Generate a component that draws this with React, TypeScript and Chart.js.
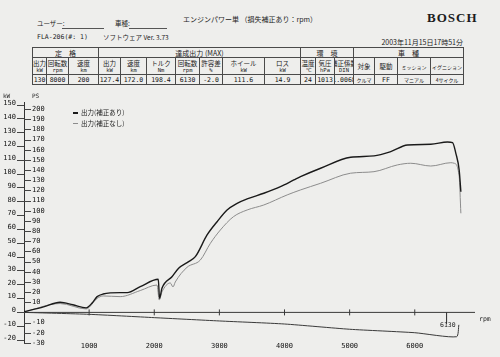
import React, { useEffect, useRef } from "react";
import { Chart, registerables } from "chart.js";
Chart.register(...registerables);

// ---- data ----
const rpmCorrected = [0, 300, 554, 750, 954, 1050, 1123, 1215, 1477, 1585, 1785, 2062, 2081, 2118, 2272, 2374, 2528, 2631, 2811, 2965, 3118, 3272, 3426, 3682, 3938, 4143, 4246, 4554, 5015, 5374, 5631, 5888, 6246, 6503, 6580, 6631, 6682, 6708];
const kwCorrected = [0.5, 4.0, 7.3, 5.5, 3.3, 7.0, 11.4, 13.3, 14.3, 14.3, 18.6, 24.0, 10.2, 17.4, 25.8, 31.9, 36.7, 40.3, 56.0, 65.6, 74.1, 78.9, 82.1, 86.2, 91.0, 95.8, 98.2, 104.3, 112.2, 113.2, 116.3, 121.1, 121.6, 123.3, 122.8, 115.1, 103.0, 87.3];
const rpmUncorrected = [0, 554, 954, 1123, 1215, 1477, 1785, 2042, 2077, 2118, 2246, 2288, 2323, 2503, 2708, 2862, 3015, 3215, 3426, 3682, 4041, 4246, 4554, 5015, 5374, 5734, 5938, 6246, 6554, 6605, 6682, 6708];
const kwUncorrected = [0.3, 6.4, 2.5, 10.1, 11.9, 11.4, 15.8, 19.8, 9.0, 14.8, 21.3, 18.4, 22.0, 32.6, 37.9, 50.0, 59.6, 69.2, 74.1, 77.7, 85.0, 88.6, 93.4, 100.7, 101.8, 106.7, 107.9, 105.9, 108.3, 107.9, 98.2, 71.7];
const rpmLoss = [0, 1000, 2000, 3000, 4000, 5000, 6000, 6642, 6677];
const kwLoss = [0, -1.4, -3.8, -6.2, -8.4, -12.2, -14.7, -17.6, -9.0];
const markerRpm = 6488;
const markerLabel = "6130";
const xTicks = [1000, 2000, 3000, 4000, 5000, 6000];
const kwTicks = [150, 140, 130, 120, 110, 100, 90, 80, 70, 60, 50, 40, 30, 20, 10, 0, -10, -20];
const psTicks = [200, 190, 180, 170, 160, 150, 140, 130, 120, 110, 100, 90, 80, 70, 60, 50, 40, 30, 20, 10, -10, -20, -30];
const seriesLabels = ["出力(補正あり)", "出力(補正なし)"];

const ratedHeaders = [["出力", "kW"], ["回転数", "rpm"], ["速度", "km"]];
const ratedValues = ["130", "8000", "200"];
const maxHeaders = [["出力", "kW"], ["速度", "km"], ["トルク", "Nm"], ["回転数", "rpm"], ["許容差", "%"], ["ホイール", "kW"], ["ロス", "kW"]];
const maxValues = ["127.4", "172.0", "198.4", "6130", "-2.0", "111.6", "14.9"];
const envHeaders = [["温度", "℃"], ["気圧", "hPa"], ["補正係数", "DIN"]];
const envValues = ["24", "1013", "1.0068"];
const vehHeaders = [["対象", ""], ["駆動", ""], ["ミッション", ""], ["イグニション", ""]];
const vehValues = ["クルマ", "FF", "マニアル", "4サイクル"];
const sectionTitles = ["定　格", "達成出力 (MAX)", "環　境", "車　種"];

const PS_KW = 0.7355;
const kwMin = -22;
const kwMax = 152;
const xMax = 6925;

const MONO = '"DejaVu Sans Mono", "Liberation Mono", monospace';
const JP = '"Noto Sans CJK JP", sans-serif';

const zip = (xs: number[], ys: number[]) => xs.map((x, i) => ({ x, y: ys[i] }));

function Txt(props: { x: number; y: number; s: number; children: any; ff?: string; w?: any; ls?: number; right?: boolean; color?: string }) {
  const { x, y, s, children, ff, w, ls, right, color } = props;
  const st: any = {
    position: "absolute",
    top: y - s * 0.6,
    fontSize: s,
    lineHeight: `${s * 1.2}px`,
    whiteSpace: "nowrap",
    fontFamily: ff || JP,
    fontWeight: w || "normal",
    letterSpacing: ls || 0,
    color: color || "#1c1c1c",
  };
  if (right) st.right = 500 - x;
  else st.left = x;
  return <div style={st}>{children}</div>;
}

function Table() {
  const colW = [14, 22, 30, 22, 26, 29, 24, 23, 42, 36, 15, 19, 19, 21, 23, 33, 33];
  const x0 = 32;
  const rows = [47, 57, 74, 84];
  const headers = [...ratedHeaders, ...maxHeaders, ...envHeaders, ...vehHeaders];
  const values = [...ratedValues, ...maxValues, ...envValues, ...vehValues];
  const sectionCols = [3, 7, 3, 4];
  const cells: any[] = [];
  const cell = (key: string, l: number, t: number, r: number, b: number, content: any) =>
    cells.push(
      <div key={key} style={{ position: "absolute", left: l, top: t, width: r - l + 1, height: b - t + 1, border: "1px solid #4a4a4a", boxSizing: "border-box", display: "flex", flexDirection: "column", alignItems: "center", justifyContent: "center", overflow: "hidden" }}>
        {content}
      </div>
    );
  const xs: number[] = [x0];
  colW.forEach((w) => xs.push(xs[xs.length - 1] + w));
  let ci = 0;
  sectionCols.forEach((n, si) => {
    cell("s" + si, xs[ci], rows[0], xs[ci + n], rows[1],
      <span style={{ fontSize: 7, lineHeight: "8px", fontFamily: JP, color: "#1c1c1c" }}>{sectionTitles[si]}</span>);
    ci += n;
  });
  const nonAscii = (s: string) => /[^\x00-\x7f]/.test(s);
  headers.forEach((h, i) => {
    cell("h" + i, xs[i], rows[1], xs[i + 1], rows[2],
      <>
        <span style={{ fontSize: h[0].length > 4 ? 5 : 6.5, lineHeight: "7px", fontFamily: JP, color: "#1c1c1c", whiteSpace: "nowrap" }}>{h[0]}</span>
        {h[1] ? <span style={{ fontSize: 5.5, lineHeight: "6px", fontFamily: MONO, color: "#1c1c1c" }}>{h[1]}</span> : null}
      </>);
    cell("v" + i, xs[i], rows[2], xs[i + 1], rows[3],
      <span style={{ fontSize: nonAscii(values[i]) ? 5 : 6.5, lineHeight: "8px", fontFamily: nonAscii(values[i]) ? JP : MONO, color: "#141414", whiteSpace: "nowrap" }}>{values[i]}</span>);
  });
  return <>{cells}</>;
}

export default function App() {
  const ref = useRef<HTMLCanvasElement>(null);
  useEffect(() => {
    document.body.style.margin = "0";
    const canvas = ref.current;
    if (!canvas) return;
    const psDashes = {
      id: "psDashes",
      afterDraw(chart: any) {
        const s = chart.scales.ps;
        const c = chart.ctx;
        const left = chart.chartArea.left;
        c.save();
        c.strokeStyle = "#444";
        c.lineWidth = 1;
        s.ticks.forEach((t: any) => {
          const y = Math.round(s.getPixelForValue(t.value)) + 0.5;
          c.beginPath();
          c.moveTo(left, y);
          c.lineTo(left + 7, y);
          c.stroke();
        });
        c.restore();
      },
    };
    const tickFont = { family: MONO, size: 7 };
    const plain = (v: any) => String(v);
    const chart = new Chart(canvas, {
      type: "line",
      data: {
        datasets: [
          { label: seriesLabels[0], data: zip(rpmCorrected, kwCorrected), borderColor: "#1a1a1a", borderWidth: 1.4, pointRadius: 0, cubicInterpolationMode: "monotone", yAxisID: "y" },
          { label: seriesLabels[1], data: zip(rpmUncorrected, kwUncorrected), borderColor: "#8c8c8c", borderWidth: 1, pointRadius: 0, cubicInterpolationMode: "monotone", yAxisID: "y" },
          { label: "loss", data: zip(rpmLoss, kwLoss), borderColor: "#3a3a3a", borderWidth: 1, pointRadius: 0, tension: 0.2, yAxisID: "y" },
          { label: "zero", data: [{ x: 0, y: 0 }, { x: xMax, y: 0 }], borderColor: "#3a3a3a", borderWidth: 1, pointRadius: 0, yAxisID: "y" },
          { label: "ticks", data: xTicks.map((v) => ({ x: v, y: 0 })), showLine: false, pointStyle: "line", rotation: 90, pointRadius: 3, borderColor: "#3a3a3a", pointBorderWidth: 1, yAxisID: "y" },
          { label: "marker", data: [{ x: markerRpm, y: 0 }, { x: markerRpm, y: -8 }], borderColor: "#3a3a3a", borderWidth: 1, pointRadius: 0, yAxisID: "y" },
        ] as any,
      },
      options: {
        responsive: false,
        animation: false,
        devicePixelRatio: 1,
        layout: { padding: { top: 12.3, right: 25, left: 0, bottom: 0 } },
        plugins: { legend: { display: false }, tooltip: { enabled: false } },
        scales: {
          x: {
            type: "linear", min: 0, max: xMax,
            afterBuildTicks: (s: any) => { s.ticks = xTicks.map((v) => ({ value: v })); },
            afterFit: (s: any) => { s.height = 14.2; },
            grid: { display: false, drawTicks: false },
            border: { display: false },
            ticks: { font: tickFont, color: "#111", padding: -1, maxRotation: 0, autoSkip: false, callback: plain },
          },
          y: {
            type: "linear", position: "left", weight: 10, min: kwMin, max: kwMax,
            afterBuildTicks: (s: any) => { s.ticks = kwTicks.map((v) => ({ value: v })); },
            afterFit: (s: any) => { s.width = 24; },
            grid: { drawOnChartArea: false, tickLength: 7, color: "#444" },
            border: { display: true, color: "#333" },
            ticks: { font: tickFont, color: "#111", padding: 1, labelOffset: -2, autoSkip: false, callback: plain },
          },
          ps: {
            type: "linear", position: "left", weight: 0, min: kwMin / PS_KW, max: kwMax / PS_KW,
            afterBuildTicks: (s: any) => { s.ticks = psTicks.map((v) => ({ value: v })); },
            afterFit: (s: any) => { s.width = 0; },
            grid: { display: false, drawTicks: false },
            border: { display: false },
            ticks: { mirror: true, padding: 8, font: tickFont, color: "#111", autoSkip: false, callback: plain },
          },
        },
      } as any,
      plugins: [psDashes],
    });
    return () => chart.destroy();
  }, []);

  return (
    <div style={{ position: "absolute", left: 0, top: 0, width: 500, height: 357, background: "#eeeeec", overflow: "hidden" }}>
      <Txt x={183} y={19} s={7}>エンジンパワー単 （損失補正あり：rpm）</Txt>
      <Txt x={427} y={18} s={13} ff={'"Liberation Serif", serif'} w="bold" ls={1}>BOSCH</Txt>
      <Txt x={37} y={24} s={6.5}>ユーザー:</Txt>
      <div style={{ position: "absolute", left: 62, top: 28, width: 42, height: 1, background: "#555" }} />
      <Txt x={115} y={24} s={6.5}>車種:</Txt>
      <div style={{ position: "absolute", left: 129, top: 28, width: 38, height: 1, background: "#555" }} />
      <Txt x={37} y={38} s={6.5} ff={MONO}>FLA-206(#: 1)</Txt>
      <Txt x={103} y={38} s={6.5}>ソフトウェア Ver. 3.73</Txt>
      <Txt x={463} y={42} s={7} right>2003年11月15日17時51分</Txt>
      <Table />
      <canvas ref={ref} width={500} height={267} style={{ position: "absolute", left: 0, top: 90, width: 500, height: 267 }} />
      <Txt x={3} y={95.5} s={6} ff={MONO}>kW</Txt>
      <Txt x={32} y={95.5} s={6} ff={MONO}>PS</Txt>
      <div style={{ position: "absolute", left: 73, top: 112, width: 5, height: 1.5, background: "#1a1a1a" }} />
      <Txt x={81} y={112.5} s={6.5}>{seriesLabels[0]}</Txt>
      <div style={{ position: "absolute", left: 73, top: 123, width: 5, height: 1.2, background: "#8c8c8c" }} />
      <Txt x={81} y={123.5} s={6.5}>{seriesLabels[1]}</Txt>
      <Txt x={440} y={326} s={6.5} ff={MONO}>{markerLabel}</Txt>
      <Txt x={479} y={320} s={6.5} ff={MONO}>rpm</Txt>
    </div>
  );
}
